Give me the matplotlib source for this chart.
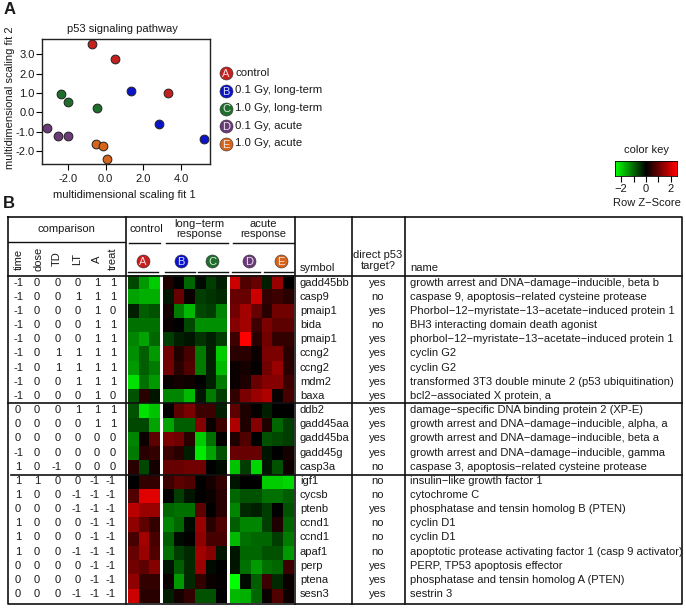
import numpy as np
import matplotlib
matplotlib.use("Agg")
import matplotlib.pyplot as plt
from matplotlib.colors import LinearSegmentedColormap

plt.rcParams["font.family"] = ["Liberation Sans", "DejaVu Sans"]
plt.rcParams["text.color"] = "#1a1a1a"
plt.rcParams["xtick.labelcolor"] = "#1a1a1a"
plt.rcParams["ytick.labelcolor"] = "#1a1a1a"
plt.rcParams["axes.labelcolor"] = "#1a1a1a"

W, H = 686, 608

# panel A points, one group per treatment
group_letters = ["A", "B", "C", "D", "E"]
group_labels = ["control", "0.1 Gy, long-term", "1.0 Gy, long-term", "0.1 Gy, acute", "1.0 Gy, acute"]
group_colors = ["#c4201f", "#0b14c8", "#1f6e2c", "#6b3a78", "#d5641c"]
group_x = [[-0.71, 0.51, 3.31], [1.33, 2.81, 5.20], [-2.37, -2.00, -0.44], [-3.11, -2.51, -2.00], [-0.51, -0.16, 0.07]]
group_y = [[3.52, 2.76, 0.98], [1.10, -0.60, -1.40], [0.95, 0.53, 0.24], [-0.81, -1.21, -1.22], [-1.62, -1.74, -2.43]]

# panel B table
comparison_cols = ["time", "dose", "TD", "LT", "A", "treat"]
comparison = [
    [-1, 0, 0, 0, 1, 1], [-1, 0, 0, 1, 1, 1], [-1, 0, 0, 0, 1, 0], [-1, 0, 0, 0, 1, 1], [-1, 0, 0, 0, 1, 1],
    [-1, 0, 1, 1, 1, 1], [-1, 0, 1, 1, 1, 1], [-1, 0, 0, 1, 1, 1], [-1, 0, 0, 0, 1, 0],
    [0, 0, 0, 1, 1, 1], [0, 0, 0, 0, 1, 1], [0, 0, 0, 0, 0, 0], [-1, 0, 0, 0, 0, 0], [1, 0, -1, 0, 0, 0],
    [1, 1, 0, 0, -1, -1], [1, 0, 0, -1, -1, -1], [0, 0, 0, -1, -1, -1], [1, 0, 0, 0, -1, -1], [1, 0, 0, 0, -1, -1],
    [1, 0, 0, -1, -1, -1], [0, 0, 0, 0, -1, -1], [0, 0, 0, 0, -1, -1], [0, 0, 0, -1, -1, -1],
]
symbols = ["gadd45bb", "casp9", "pmaip1", "bida", "pmaip1", "ccng2", "ccng2", "mdm2", "baxa",
           "ddb2", "gadd45aa", "gadd45ba", "gadd45g", "casp3a",
           "igf1", "cycsb", "ptenb", "ccnd1", "ccnd1", "apaf1", "perp", "ptena", "sesn3"]
direct = ["yes", "no", "yes", "no", "yes", "yes", "yes", "yes", "yes",
          "yes", "yes", "yes", "yes", "no",
          "no", "no", "yes", "no", "no", "no", "yes", "yes", "yes"]
names = [
    "growth arrest and DNA\u2212damage\u2212inducible, beta b",
    "caspase 9, apoptosis\u2212related cysteine protease",
    "Phorbol\u221212\u2212myristate\u221213\u2212acetate\u2212induced protein 1",
    "BH3 interacting domain death agonist",
    "phorbol\u221212\u2212myristate\u221213\u2212acetate\u2212induced protein 1",
    "cyclin G2",
    "cyclin G2",
    "transformed 3T3 double minute 2 (p53 ubiquitination)",
    "bcl2\u2212associated X protein, a",
    "damage\u2212specific DNA binding protein 2 (XP-E)",
    "growth arrest and DNA\u2212damage\u2212inducible, alpha, a",
    "growth arrest and DNA\u2212damage\u2212inducible, beta a",
    "growth arrest and DNA\u2212damage\u2212inducible, gamma",
    "caspase 3, apoptosis\u2212related cysteine protease",
    "insulin\u2212like growth factor 1",
    "cytochrome C",
    "phosphatase and tensin homolog B (PTEN)",
    "cyclin D1",
    "cyclin D1",
    "apoptotic protease activating factor 1 (casp 9 activator)",
    "PERP, TP53 apoptosis effector",
    "phosphatase and tensin homolog A (PTEN)",
    "sestrin 3",
]

# heatmap z-scores, columns: control, long-term, acute
control = [
    [-0.7, -1.5, -2.0], [-1.6, -1.7, -1.7], [-0.3, -0.9, -0.8], [-1.1, -1.1, -1.1], [-1.3, -1.6, -1.0],
    [-1.4, -0.9, -1.5], [-1.5, -0.9, -1.2], [-2.2, -1.1, -1.5], [-0.8, 0.4, -0.2],
    [-0.8, -2.2, -1.9], [-0.7, -0.7, -1.6], [-1.3, 0.1, 0.9], [-1.2, 0.4, 0.5], [0.4, -0.7, 0.2],
    [0.0, 0.5, 0.5], [0.8, 2.2, 2.2], [1.8, 1.5, 1.5], [1.4, 0.9, 0.5], [0.7, 1.6, 0.7],
    [1.0, 1.5, 0.8], [1.1, 0.9, 1.3], [1.4, 0.5, 0.5], [2.0, 0.4, 0.4],
]
long_term = [
    [0.3, 0.0, -1.0, -0.1, -0.6, -0.3], [-0.2, 1.0, 0.1, -0.6, -0.5, -0.4], [0.2, -1.2, -1.8, -0.7, -0.6, -1.3],
    [0.1, 0.0, -0.7, -1.4, -1.4, -1.4], [-0.6, -0.3, -0.2, -0.5, -0.3, -0.6], [1.1, 0.3, 0.7, -1.2, -0.3, -2.0],
    [1.1, 0.4, 0.8, -1.2, -0.3, -1.8], [0.1, 0.2, 0.15, 0.0, -0.3, -1.2], [-1.3, -1.3, -1.8, -0.2, -1.2, -0.6],
    [0.05, 0.9, 1.2, 0.6, 0.6, -0.3], [-1.6, -0.9, -0.9, 1.3, 0.1, 0.6], [1.2, 1.1, 0.4, -2.0, -1.1, 0.05],
    [0.6, 0.4, -0.3, -2.3, -1.6, -0.8], [1.0, 1.0, 1.1, 1.1, 0.0, -0.1],
    [0.6, 0.9, 0.8, 0.0, 0.2, 0.5], [0.0, -0.6, -0.2, 0.0, 0.1, 0.4], [-1.0, -1.1, -1.1, 0.9, 0.0, 0.4],
    [-1.3, -1.0, -0.1, 1.5, 0.4, 0.8], [-0.9, -0.1, 0.05, 1.4, 0.7, 0.7], [-1.1, -0.6, -0.4, 1.6, 1.3, -0.2],
    [-0.2, -0.9, -0.4, 1.5, -0.1, 0.0], [0.1, -1.5, -0.4, 0.5, 0.1, 0.05], [-0.3, 0.2, 0.5, -0.8, -0.8, 0.0],
]
acute = [
    [2.0, 0.8, 1.0, -0.3, 1.5, 0.0], [1.0, 1.0, 2.0, 0.5, 0.6, 0.4], [1.1, 1.6, 1.0, 0.4, 1.1, 1.1],
    [1.3, 1.6, 0.6, 1.2, 0.9, 0.9], [0.6, 2.5, 0.4, 1.1, 0.5, 0.5], [0.4, 0.4, 0.1, 1.2, 1.2, 0.4],
    [0.1, 0.2, 0.05, 1.1, 1.5, 0.4], [0.1, 0.3, 1.0, 1.3, 1.3, 0.6], [0.5, 1.2, 1.5, 1.7, 0.1, 0.7],
    [0.9, 0.3, 0.05, -0.3, 0.0, 0.0], [1.7, 0.3, 1.3, 0.3, -1.0, -0.6], [0.3, 0.8, 0.0, -0.8, -0.7, -0.6],
    [1.0, 1.0, 1.0, -0.2, 0.0, 0.2], [-1.9, -0.6, -2.1, -0.2, -0.8, 0.15],
    [-0.2, 0.0, 0.0, -2.0, -2.0, -2.1], [-1.0, -0.8, -0.8, -1.1, -1.1, -0.9], [-1.3, -0.4, -0.3, -0.6, 0.0, -0.8],
    [-0.9, -1.3, -1.3, -0.6, 0.3, -1.0], [-1.8, -1.1, -1.0, -1.0, -0.6, -1.2], [-0.2, -1.0, -1.0, -0.8, -0.8, -1.5],
    [-0.2, -1.1, -1.5, -1.1, -1.0, 0.6], [-2.5, -0.1, -0.9, 0.6, -0.4, 0.1], [-1.8, -1.7, -1.0, 0.1, 0.8, 0.1],
]

cmap = LinearSegmentedColormap.from_list("gkr", ["#00ff00", "#000000", "#ff0000"])


def px_axes(x0, y0, x1, y1, **kw):
    return fig.add_axes([x0 / W, 1 - y1 / H, (x1 - x0) / W, (y1 - y0) / H], **kw)


fig = plt.figure(figsize=(W / 100, H / 100), dpi=100)

# overlay in pixel coordinates for the table text and rules
page = px_axes(0, 0, W, H, zorder=5)
page.set_xlim(0, W)
page.set_ylim(H, 0)
page.axis("off")
page.patch.set_alpha(0)

FS = 8.0
page.text(4, 9, "A", fontsize=12, fontweight="bold", va="center")
page.text(3, 204, "B", fontsize=12, fontweight="bold", va="center")

# panel A
ax = px_axes(42.3, 39.3, 210, 163.5)
for i in range(5):
    ax.scatter(group_x[i], group_y[i], s=40, color=group_colors[i], edgecolor="#222222", linewidth=0.7, clip_on=False, zorder=3)
ax.set_xlim(-3.37, 5.54)
ax.set_ylim(-2.65, 3.78)
ax.set_xticks([-2, 0, 2, 4])
ax.set_xticklabels(["-2.0", "0.0", "2.0", "4.0"], fontsize=FS)
ax.set_yticks([-2, -1, 0, 1, 2, 3])
ax.set_yticklabels(["-2.0", "-1.0", "0.0", "1.0", "2.0", "3.0"], fontsize=FS)
ax.tick_params(axis="x", length=4, width=0.8, pad=3.5)
ax.tick_params(axis="y", length=4, width=0.8, pad=1.5)
ax.set_xlabel("multidimensional scaling fit 1", fontsize=FS)
ax.xaxis.set_label_coords(0.49, -0.21)
ax.set_ylabel("multidimensional scaling fit 2", fontsize=FS)
ax.yaxis.set_label_coords(-0.162, 0.53)
ax.set_title("p53 signaling pathway", fontsize=FS, pad=5, x=0.48)
for s in ax.spines.values():
    s.set_linewidth(1.0)
    s.set_color("#222222")


def badge(x, y, letter, color):
    page.scatter([x], [y], s=88, color=color, edgecolor="#333333", linewidth=0.4, zorder=6)
    page.text(x, y + 0.8, letter, color="white", fontsize=FS, ha="center", va="center", zorder=7, alpha=0.85)


for i in range(5):
    y = 73 + i * 17.75
    badge(226, y, group_letters[i], group_colors[i])
    page.text(235, y - 0.5, group_labels[i], fontsize=FS + 0.2, va="center")

# colour key
key = px_axes(615, 161, 677, 176)
key.imshow(np.linspace(-2.5, 2.5, 64)[None, :], cmap=cmap, vmin=-2.5, vmax=2.5, aspect="auto", extent=[-2.5, 2.5, 0, 1])
key.set_yticks([])
key.set_xticks([-2, -1, 0, 1, 2])
key.set_xticklabels(["\u22122", "", "0", "", "2"], fontsize=FS)
key.tick_params(length=4.5, width=0.8, pad=1)
for s in key.spines.values():
    s.set_linewidth(0.6)
page.text(646.5, 150, "color key", fontsize=FS, ha="center", va="center")
page.text(646.5, 203, "Row Z\u2212Score", fontsize=FS, ha="center", va="center")

# heatmap blocks
top, bottom = 275.0, 603.0
for block, x0, x1 in [(control, 128, 160), (long_term, 163, 227), (acute, 229.5, 293.5)]:
    hm = px_axes(x0, top, x1, bottom)
    hm.pcolormesh(np.array(block), cmap=cmap, vmin=-2.5, vmax=2.5)
    hm.invert_yaxis()
    hm.axis("off")

# table frame and rules
lc = "#111111"
page.plot([8, 682, 682, 8, 8], [217, 217, 604, 604, 217], color=lc, lw=1.2, clip_on=False)
page.plot([8, 125], [242, 242], color=lc, lw=1.0)
page.plot([8, 682], [275.5, 275.5], color=lc, lw=1.2)
page.plot([8, 682], [403, 403], color=lc, lw=1.2)
page.plot([11, 682], [474.8, 474.8], color=lc, lw=1.2)
for x in [125.5, 294.5, 352, 405]:
    page.plot([x, x], [217, 604], color=lc, lw=1.2)

# header
col_x = [19, 38, 57, 77, 97, 113]
page.text(66, 228.5, "comparison", fontsize=FS, ha="center", va="center")
for x, c in zip(col_x, comparison_cols):
    page.text(x, 259, c, fontsize=FS, rotation=90, ha="center", va="center")
page.text(146, 229, "control", fontsize=FS, ha="center", va="center")
page.text(199.5, 229, "long\u2212term\nresponse", fontsize=FS, ha="center", va="center", linespacing=0.9)
page.text(263, 229, "acute\nresponse", fontsize=FS, ha="center", va="center", linespacing=0.9)
for x0, x1 in [(129, 160), (166, 228), (233, 294)]:
    page.plot([x0, x1], [242.5, 242.5], color=lc, lw=1.0)
badge_x = [143, 181, 212, 249, 281]
rule_x = [(128, 158), (165, 195), (198, 228), (232, 260), (264, 293)]
for i in range(5):
    badge(badge_x[i], 261, group_letters[i], group_colors[i])
    page.plot(rule_x[i], [271.8, 271.8], color=lc, lw=1.0)
page.text(300, 268, "symbol", fontsize=FS, va="center")
page.text(378, 260.5, "direct p53\ntarget?", fontsize=FS, ha="center", va="center", linespacing=1.2)
page.text(410, 268, "name", fontsize=FS, va="center")

# table rows
val_x = [18, 37, 58, 78, 97, 113]
for r in range(len(symbols)):
    y = 282.7 + r * 14.15
    for x, v in zip(val_x, comparison[r]):
        page.text(x - (2 if v < 0 and x > 20 else 0), y, str(v), fontsize=FS, ha="center", va="center")
    page.text(300, y, symbols[r], fontsize=FS, va="center")
    page.text(378, y, direct[r], fontsize=FS, ha="center", va="center")
    page.text(410, y, names[r], fontsize=FS, va="center")

fig.savefig("out.png", dpi=100)
